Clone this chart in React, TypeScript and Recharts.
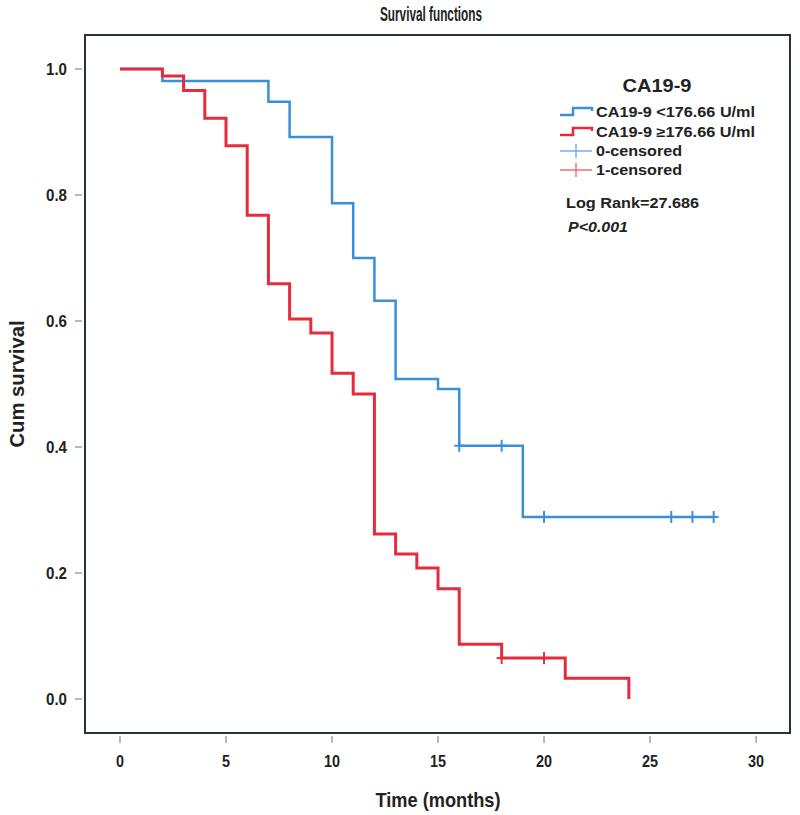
import React from "react";
import { ComposedChart, Line, Scatter, XAxis, YAxis, ReferenceArea } from "recharts";

// Kaplan-Meier steps (time in months, cumulative survival)
const lowTimes = [0, 2, 7, 8, 10, 11, 12, 13, 15, 16, 19, 28];
const lowSurv = [1.0, 0.981, 0.948, 0.892, 0.787, 0.7, 0.632, 0.508, 0.492, 0.402, 0.289, 0.289];
const lowCensTimes = [16, 18, 20, 26, 27, 28];
const lowCensSurv = [0.402, 0.402, 0.289, 0.289, 0.289, 0.289];

const highTimes = [0, 2, 3, 4, 5, 6, 7, 8, 9, 10, 11, 12, 13, 14, 15, 16, 18, 21, 24];
const highSurv = [1.0, 0.989, 0.966, 0.922, 0.878, 0.768, 0.659, 0.603, 0.581, 0.517, 0.484, 0.262, 0.23, 0.208, 0.175, 0.087, 0.065, 0.033, 0.0];
const highCensTimes = [18, 20];
const highCensSurv = [0.065, 0.065];

const xTicks = [0, 5, 10, 15, 20, 25, 30];
const yTicks = [0, 0.2, 0.4, 0.6, 0.8, 1.0];
const X_MIN = -1.65;
const X_MAX = 31.6;
const Y_MIN = -0.054;
const Y_MAX = 1.054;

const BLUE = "#3a8fd9";
const RED = "#e42c3c";
const FONT = "'Liberation Sans', Arial, sans-serif";

const toPts = (t: number[], s: number[]) => t.map((v, i) => ({ t: v, s: s[i] }));

const lowData = toPts(lowTimes, lowSurv);
const highData = toPts(highTimes, highSurv);
const lowCens = toPts(lowCensTimes, lowCensSurv);
const highCens = toPts(highCensTimes, highCensSurv);

function XTick(props: any) {
  const { x, y, payload } = props;
  const label = String(payload.value);
  return (
    <g>
      <line x1={x} x2={x} y1={y + 3} y2={y + 10} stroke="#9aa4a8" strokeWidth={1.5} />
      <text x={x} y={y + 34} textAnchor="middle" fontFamily={FONT} fontWeight="bold" fontSize={16} fill="#222"
        textLength={label.length * 8} lengthAdjust="spacingAndGlyphs">
        {label}
      </text>
    </g>
  );
}

function YTick(props: any) {
  const { x, y, payload } = props;
  return (
    <g>
      <line x1={x - 10} x2={x - 3} y1={y} y2={y} stroke="#9aa4a8" strokeWidth={1.5} />
      <text x={x - 18} y={y + 6} textAnchor="end" fontFamily={FONT} fontWeight="bold" fontSize={16} fill="#222"
        textLength={21} lengthAdjust="spacingAndGlyphs">
        {Number(payload.value).toFixed(1)}
      </text>
    </g>
  );
}

const censorMark = (color: string) => (props: any) => {
  const { cx, cy } = props;
  return (
    <g>
      <line x1={cx} x2={cx} y1={cy - 6} y2={cy + 6} stroke={color} strokeWidth={2} />
      <line x1={cx - 5} x2={cx + 5} y1={cy} y2={cy} stroke={color} strokeWidth={2} />
    </g>
  );
};

function Legend() {
  const rowY = [112, 132, 151, 170];
  return (
    <g fontFamily={FONT} fontWeight="bold" fill="#222">
      <text x={657} y={92} textAnchor="middle" fontSize={19} textLength={69} lengthAdjust="spacingAndGlyphs">CA19-9</text>
      <polyline points={`560,${rowY[0] + 3} 573,${rowY[0] + 3} 573,${rowY[0] - 4} 592,${rowY[0] - 4} 592,${rowY[0] - 1}`} fill="none" stroke={BLUE} strokeWidth={2.5} />
      <text x={596} y={rowY[0] + 5} fontSize={14} textLength={159} lengthAdjust="spacingAndGlyphs">CA19-9 &lt;176.66 U/ml</text>
      <polyline points={`560,${rowY[1] + 3} 573,${rowY[1] + 3} 573,${rowY[1] - 4} 592,${rowY[1] - 4} 592,${rowY[1] - 1}`} fill="none" stroke={RED} strokeWidth={2.5} />
      <text x={596} y={rowY[1] + 5} fontSize={14} textLength={159} lengthAdjust="spacingAndGlyphs">CA19-9 ≥176.66 U/ml</text>
      <line x1={560} x2={592} y1={rowY[2]} y2={rowY[2]} stroke="#6fb0e8" strokeWidth={1.5} />
      <line x1={576} x2={576} y1={rowY[2] - 7} y2={rowY[2] + 7} stroke="#6fb0e8" strokeWidth={1.5} />
      <text x={596} y={rowY[2] + 5} fontSize={14} textLength={86} lengthAdjust="spacingAndGlyphs">0-censored</text>
      <line x1={560} x2={592} y1={rowY[3]} y2={rowY[3]} stroke="#ec6f7a" strokeWidth={1.5} />
      <line x1={576} x2={576} y1={rowY[3] - 7} y2={rowY[3] + 7} stroke="#ec6f7a" strokeWidth={1.5} />
      <text x={596} y={rowY[3] + 5} fontSize={14} textLength={86} lengthAdjust="spacingAndGlyphs">1-censored</text>
      <text x={566} y={208} fontSize={14} textLength={133} lengthAdjust="spacingAndGlyphs">Log Rank=27.686</text>
      <text x={568} y={232} fontSize={14} fontStyle="italic" textLength={60} lengthAdjust="spacingAndGlyphs">P&lt;0.001</text>
    </g>
  );
}

export default function App() {
  return (
    <div style={{ position: "absolute", left: 0, top: 0, width: 800, height: 815, background: "#fff" }}>
      <ComposedChart width={800} height={815} margin={{ top: 35, right: 10, bottom: 0, left: 0 }}>
        <XAxis
          dataKey="t"
          type="number"
          domain={[X_MIN, X_MAX]}
          ticks={xTicks}
          allowDataOverflow
          axisLine={false}
          tickLine={false}
          tickSize={0}
          tickMargin={0}
          height={82}
          tick={<XTick />}
          interval={0}
        />
        <YAxis
          dataKey="s"
          type="number"
          domain={[Y_MIN, Y_MAX]}
          ticks={yTicks}
          allowDataOverflow
          axisLine={false}
          tickLine={false}
          tickSize={0}
          tickMargin={0}
          width={85}
          tick={<YTick />}
          interval={0}
        />
        <ReferenceArea x1={X_MIN} x2={X_MAX} y1={Y_MIN} y2={Y_MAX} fill="none" fillOpacity={0} stroke="#24343a" strokeWidth={2} strokeOpacity={1} ifOverflow="visible" />
        <Line data={lowData} dataKey="s" type="stepAfter" stroke={BLUE} strokeWidth={2.5} dot={false} isAnimationActive={false} />
        <Line data={highData} dataKey="s" type="stepAfter" stroke={RED} strokeWidth={3} dot={false} isAnimationActive={false} />
        <Scatter data={lowCens} dataKey="s" shape={censorMark(BLUE)} isAnimationActive={false} />
        <Scatter data={highCens} dataKey="s" shape={censorMark(RED)} isAnimationActive={false} />
      </ComposedChart>
      <svg width={800} height={815} style={{ position: "absolute", left: 0, top: 0, pointerEvents: "none" }}>
        <text x={431} y={21} textAnchor="middle" fontFamily={FONT} fontWeight="bold" fontSize={20} fill="#222" textLength={102} lengthAdjust="spacingAndGlyphs">
          Survival functions
        </text>
        <text x={438} y={807} textAnchor="middle" fontFamily={FONT} fontWeight="bold" fontSize={21} fill="#222" textLength={125} lengthAdjust="spacingAndGlyphs">
          Time (months)
        </text>
        <text x={0} y={0} transform="translate(24,384) rotate(-90)" textAnchor="middle" fontFamily={FONT} fontWeight="bold" fontSize={21} fill="#222" textLength={127} lengthAdjust="spacingAndGlyphs">
          Cum survival
        </text>
        <Legend />
      </svg>
    </div>
  );
}
